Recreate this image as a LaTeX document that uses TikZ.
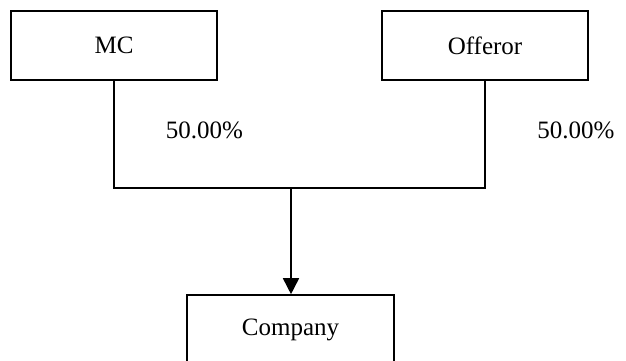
\documentclass[tikz,border=0pt]{standalone}
\usepackage{fontspec}
\setmainfont{Liberation Serif}
\usetikzlibrary{arrows.meta}
\begin{document}
\begin{tikzpicture}[x=1pt,y=-1pt,
  box/.style={draw,line width=1.6pt,minimum width=206pt,minimum height=69pt,inner sep=0pt,font=\fontsize{25}{29}\selectfont},
  lbl/.style={inner sep=0pt,font=\fontsize{25}{29}\selectfont},
  conn/.style={line width=1.6pt}]
\useasboundingbox (0,0) rectangle (626,360);
\node[box] (mc) at (114,45.5) {MC};
\node[box] (off) at (485,45.5) {Offeror};
\node[box,minimum width=207pt] (co) at (290.5,329.5) {Company};
\coordinate (j) at (291,188);
\node[lbl] (l1) at (204.5,130) {50.00\%};
\node[lbl] (l2) at (576,130) {50.00\%};
\draw[conn] (mc.south) |- (j) -| (off.south);
\draw[conn,-{Triangle[width=16pt,length=16pt]}] (j) -- (j |- co.north);
\end{tikzpicture}
\end{document}
